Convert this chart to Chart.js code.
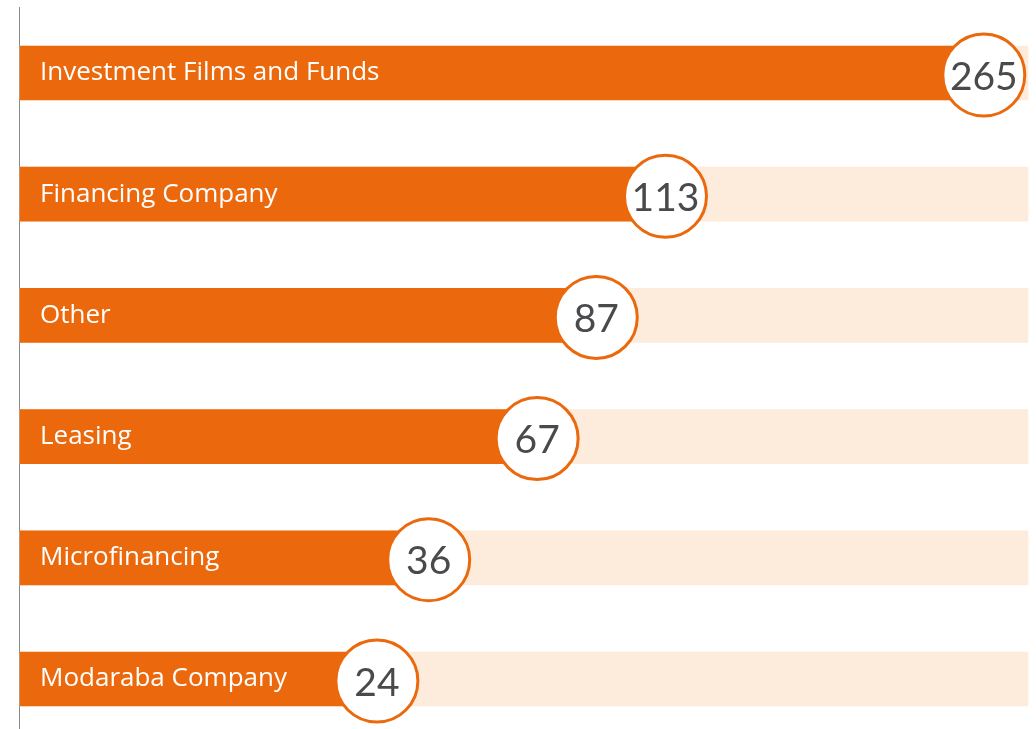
<!DOCTYPE html>
<html>
<head>
<meta charset="utf-8">
<title>Institutions by type</title>
<script src="https://cdn.jsdelivr.net/npm/chart.js@4.4.1/dist/chart.umd.min.js"></script>
<style>
  html, body { margin: 0; padding: 0; background: #fff; }
  #wrap { width: 1036px; height: 729px; position: relative; }
</style>
</head>
<body>
<div id="wrap"><canvas id="typeChart"></canvas></div>
<script>
const categories = ['Investment Films and Funds', 'Financing Company', 'Other', 'Leasing', 'Microfinancing', 'Modaraba Company'];
const counts = [265, 113, 87, 67, 36, 24];

const X_MIN = -20;
const X_MAX = 290;
const X_POWER = 0.6;

const ORANGE = '#EB690C';
const TRACK = '#FDEBDC';

// power value axis (exponent < 1) so the small bars don't get squashed
class PowScale extends Chart.LinearScale {
  _t(v) {
    const p = this.options.exponent || 1;
    return Math.sign(v) * Math.pow(Math.abs(v), p);
  }
  getPixelForValue(value) {
    const t0 = this._t(this.min), t1 = this._t(this.max);
    return this.getPixelForDecimal((this._t(value) - t0) / (t1 - t0));
  }
  getValueForPixel(pixel) {
    const p = this.options.exponent || 1;
    const t0 = this._t(this.min), t1 = this._t(this.max);
    const t = t0 + this.getDecimalForPixel(pixel) * (t1 - t0);
    return Math.sign(t) * Math.pow(Math.abs(t), 1 / p);
  }
}
PowScale.id = 'pow';
PowScale.defaults = {};
Chart.register(PowScale);

// category names inside the bars, value bubbles at the bar ends, left rule
const barDecor = {
  id: 'barDecor',
  beforeDatasetsDraw(chart) {
    const ctx = chart.ctx;
    ctx.save();
    ctx.strokeStyle = '#8a8a8a';
    ctx.lineWidth = 1;
    ctx.beginPath();
    ctx.moveTo(chart.chartArea.left - 0.5, 7);
    ctx.lineTo(chart.chartArea.left - 0.5, chart.height);
    ctx.stroke();
    ctx.restore();
  },
  afterDatasetsDraw(chart) {
    const ctx = chart.ctx;
    const bars = chart.getDatasetMeta(0).data;
    ctx.save();
    bars.forEach((bar, i) => {
      ctx.fillStyle = '#ffffff';
      ctx.font = '26px "Open Sans"';
      ctx.textAlign = 'left';
      ctx.textBaseline = 'middle';
      ctx.fillText(categories[i], chart.chartArea.left + 20, bar.y);

      ctx.beginPath();
      ctx.arc(bar.x, bar.y + 2, 41, 0, Math.PI * 2);
      ctx.fillStyle = '#ffffff';
      ctx.fill();
      ctx.lineWidth = 3;
      ctx.strokeStyle = ORANGE;
      ctx.stroke();

      ctx.fillStyle = '#4a4a4c';
      ctx.font = '39px Lato';
      ctx.textAlign = 'center';
      ctx.fillText(String(counts[i]), bar.x, bar.y + 4);
    });
    ctx.restore();
  }
};

new Chart(document.getElementById('typeChart'), {
  type: 'bar',
  data: {
    labels: categories,
    datasets: [
      {
        data: counts,
        backgroundColor: ORANGE,
        base: X_MIN,
        grouped: false,
        order: 0,
        clip: false
      },
      {
        data: counts.map(() => X_MAX),
        backgroundColor: TRACK,
        base: X_MIN,
        grouped: false,
        order: 1,
        clip: false
      }
    ]
  },
  options: {
    indexAxis: 'y',
    responsive: true,
    maintainAspectRatio: false,
    animation: false,
    barThickness: 54,
    layout: { padding: { left: 20, right: 8, top: 73, bottom: 50 } },
    plugins: {
      legend: { display: false },
      tooltip: { enabled: false }
    },
    scales: {
      x: { type: 'pow', exponent: X_POWER, min: X_MIN, max: X_MAX, display: false },
      y: { type: 'category', offset: false, display: false }
    }
  },
  plugins: [barDecor]
});
</script>
</body>
</html>
